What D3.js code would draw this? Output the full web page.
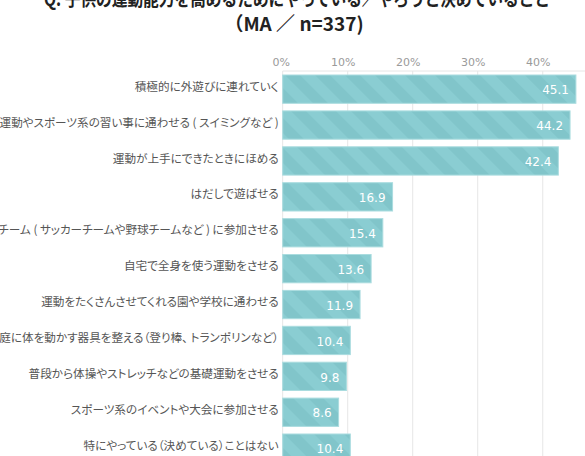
<!DOCTYPE html>
<html>
<head>
<meta charset="utf-8">
<script src="https://cdn.jsdelivr.net/npm/d3@7"></script>
<style>
  html, body { margin: 0; padding: 0; background: #fff; overflow: hidden; }
  .cat { font-feature-settings: "palt"; }
</style>
</head>
<body>
<div id="chart"></div>
<script>
// chart data
let titleLines = ["Q. 子供の運動能力を高めるためにやっている／やろうと決めていること", "（MA ／ n=337)"];
let categories = [
  "積極的に外遊びに連れていく",
  "運動やスポーツ系の習い事に通わせる ( スイミングなど )",
  "運動が上手にできたときにほめる",
  "はだしで遊ばせる",
  "スポーツチーム ( サッカーチームや野球チームなど ) に参加させる",
  "自宅で全身を使う運動をさせる",
  "運動をたくさんさせてくれる園や学校に通わせる",
  "家庭に体を動かす器具を整える（登り棒、 トランポリンなど）",
  "普段から体操やストレッチなどの基礎運動をさせる",
  "スポーツ系のイベントや大会に参加させる",
  "特にやっている（決めている）ことはない"
];
let values = [45.1, 44.2, 42.4, 16.9, 15.4, 13.6, 11.9, 10.4, 9.8, 8.6, 10.4];
let tickValues = [0, 10, 20, 30, 40];

let W = 585, H = 456;
let plotLeft = 282.7, barTop = 75, step = 35.9, barH = 28.3;

let svg = d3.select("#chart").append("svg")
  .attr("width", W)
  .attr("height", H);

svg.append("rect").attr("width", W).attr("height", H).attr("fill", "#fff");

//stripe pattern for bars
let defs = svg.append("defs");
let pat = defs.append("pattern")
  .attr("id", "stripes")
  .attr("patternUnits", "userSpaceOnUse")
  .attr("width", 21.2)
  .attr("height", 21.2)
  .attr("patternTransform", "rotate(-45)");
pat.append("rect").attr("width", 21.2).attr("height", 21.2).attr("fill", "#8acdd2");
pat.append("rect").attr("width", 10.6).attr("height", 21.2).attr("fill", "#81c5ca");

let x = d3.scaleLinear().domain([0, 46.5]).range([plotLeft, W]);
let y = d3.scaleLinear().domain([0, 1]).range([barTop, barTop + step]);

//title
let title = svg.append("g").attr("font-family", "'Noto Sans CJK JP', sans-serif")
  .attr("font-weight", "bold").attr("fill", "#222").attr("text-anchor", "middle");
title.append("text").attr("x", 297).attr("y", 6).attr("font-size", 19)
  .attr("textLength", 506).attr("lengthAdjust", "spacingAndGlyphs").text(titleLines[0]);
title.append("text").attr("x", 294).attr("y", 31).attr("font-size", 19).text(titleLines[1]);

//grid
let grid = svg.append("g");
grid.append("line").attr("x1", plotLeft).attr("x2", W).attr("y1", 71).attr("y2", 71)
  .attr("stroke", "#e6e6e6").attr("stroke-width", 1);
grid.selectAll("line.v").data(tickValues).enter().append("line")
  .attr("class", "v")
  .attr("x1", d => x(d)).attr("x2", d => x(d))
  .attr("y1", 71).attr("y2", H)
  .attr("stroke", "#e6e6e6").attr("stroke-width", 1);

//axis labels on top
let axis = svg.append("g")
  .attr("transform", "translate(0,66)")
  .call(d3.axisTop(x).tickValues(tickValues).tickFormat(d => d + "%").tickSize(0).tickPadding(0));
axis.select(".domain").remove();
axis.selectAll("text")
  .attr("font-family", "'DejaVu Sans', sans-serif")
  .attr("font-size", 11)
  .attr("fill", "#9a9a9a")
  .attr("dx", (d, i) => i == 0 ? -2 : -5);

//bars
svg.selectAll("rect.bar").data(values).enter().append("rect")
  .attr("class", "bar")
  .attr("x", x(0))
  .attr("y", (d, i) => y(i))
  .attr("width", d => x(d) - x(0))
  .attr("height", barH)
  .attr("fill", "url(#stripes)")
  .attr("stroke", "#aadcdf")
  .attr("stroke-width", 1);

//value labels
svg.selectAll("text.val").data(values).enter().append("text")
  .attr("class", "val")
  .attr("x", d => x(d) - 7)
  .attr("y", (d, i) => y(i) + barH / 2 + 1)
  .attr("dy", "0.35em")
  .attr("text-anchor", "end")
  .attr("font-family", "'DejaVu Sans', sans-serif")
  .attr("font-size", 12)
  .attr("fill", "#fff")
  .text(d => d.toFixed(1));

//category labels
svg.selectAll("text.cat").data(categories).enter().append("text")
  .attr("class", "cat")
  .attr("x", plotLeft - 4)
  .attr("y", (d, i) => y(i) + barH / 2 - 2.5)
  .attr("dy", "0.35em")
  .attr("text-anchor", "end")
  .attr("font-family", "'Noto Sans CJK JP', sans-serif")
  .attr("font-size", 11.6)
  .attr("fill", "#555")
  .text(d => d);
</script>
</body>
</html>
